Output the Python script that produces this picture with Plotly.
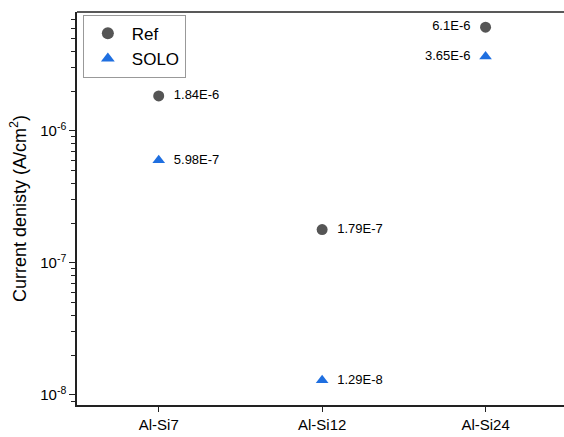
import plotly.graph_objects as go

categories = ["Al-Si7", "Al-Si12", "Al-Si24"]
ref_values = [1.84e-6, 1.79e-7, 6.1e-6]
solo_values = [5.98e-7, 1.29e-8, 3.65e-6]
ref_labels = ["1.84E-6", "1.79E-7", "6.1E-6"]
solo_labels = ["5.98E-7", "1.29E-8", "3.65E-6"]
label_pos = ["middle right", "middle right", "middle left"]

major_ticks = [1e-8, 1e-7, 1e-6]
major_text = ["10<sup>-8</sup>", "10<sup>-7</sup>", "10<sup>-6</sup>"]
minor_ticks = [m * d for d in (1e-9, 1e-8, 1e-7, 1e-6) for m in range(2, 10)]

x_idx = list(range(len(categories)))
y_range = [-8.076, -5.1]


def pad(labels):
    return ["  " + t if p.endswith("right") else t + "  " for t, p in zip(labels, label_pos)]


fig = go.Figure()
fig.add_trace(go.Scatter(
    x=x_idx, y=ref_values, mode="markers+text", name="Ref",
    text=pad(ref_labels), textposition=label_pos,
    textfont=dict(size=13, color="black"),
    marker=dict(symbol="circle", size=11, color="#555555"),
))
fig.add_trace(go.Scatter(
    x=x_idx, y=solo_values, mode="markers+text", name="SOLO",
    text=pad(solo_labels), textposition=label_pos,
    textfont=dict(size=13, color="black"),
    marker=dict(symbol="triangle-up", size=11, color="#1f6fe0"),
))

fig.update_layout(
    width=564, height=437,
    margin=dict(l=77, r=0, t=12, b=32),
    plot_bgcolor="white", paper_bgcolor="white",
    font=dict(family="Liberation Sans, Arial", color="black"),
    showlegend=True,
    legend=dict(x=0.012, y=0.993, xanchor="left", yanchor="top",
                bordercolor="#999999", borderwidth=1, bgcolor="white",
                font=dict(size=17), tracegroupgap=0, itemsizing="constant",
                itemwidth=38),
    xaxis=dict(
        range=[-0.5, 2.48], tickmode="array", tickvals=x_idx, ticktext=categories,
        showline=True, linecolor="#222222", linewidth=1.5, mirror=False,
        ticks="outside", ticklen=5, tickcolor="#222222", showgrid=False,
        zeroline=False, tickfont=dict(size=15),
    ),
    yaxis=dict(
        type="log", range=y_range, tickmode="array", tickvals=major_ticks,
        ticktext=major_text,
        showline=True, linecolor="#222222", linewidth=1.5,
        ticks="outside", ticklen=6, tickcolor="#222222", tickwidth=1.3, showgrid=False,
        zeroline=False, tickfont=dict(size=15),
        minor=dict(ticks="outside", ticklen=4, tickcolor="#222222", tickwidth=1.2,
                   showgrid=False, tickmode="array", tickvals=minor_ticks),
        title=dict(text="Current denisty (A/cm<sup>2</sup>)", font=dict(size=18), standoff=9),
    ),
)
fig.add_shape(type="line", xref="paper", yref="paper", x0=0, x1=1, y0=1, y1=1,
              line=dict(color="#222222", width=1.5))

fig.write_html("out.html")
